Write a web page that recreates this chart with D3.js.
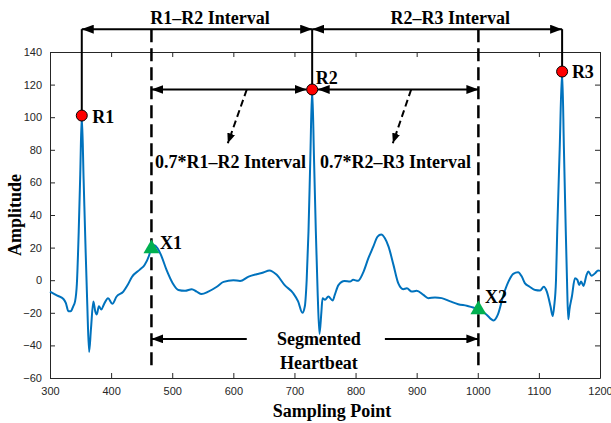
<!DOCTYPE html>
<html>
<head>
<meta charset="utf-8">
<script src="https://cdn.jsdelivr.net/npm/d3@7"></script>
<style>
  body { margin: 0; background: #fff; }
  svg { display: block; }
</style>
</head>
<body>
<svg id="chart"></svg>
<script>
// ECG samples: [sampling point, amplitude]
const signal = [
  [300,-7],[312,-9.5],[322,-11.5],[326,-14],[330,-19],[334,-19],[338,-16],[341,-13],
  [344,-2],[347,30],[349.5,65],[352,101],[355,62],[358,22],[361,-15],[364,-44],
  [367,-30],[371,-13],[374,-19],[376.5,-21],[380,-16],[384,-18],[388,-15],[395,-11],
  [402,-14.5],[409,-10],[420,-7],[427,-3],[434,2],[447,6.5],[455,9.5],[462,15],
  [466,20],[471,21.5],[476,19.5],[481,16],[491,6],[501,-2],[510,-6],[521,-6.5],
  [532,-5.5],[540,-7],[548,-8.5],[559,-7],[573,-4],[584,-1],[600,0],[611,-0.5],
  [625,2.2],[638,3.7],[649,4.7],[659,6],[671,3.3],[684,-3],[698,-8],[706,-13],
  [713,-20],[717,-16],[720,0],[723,30],[726,75],[729,117],[732,75],[735,30],
  [738,-8],[741,-33],[744,-20],[746,-11],[750,-12],[755.5,-10],[762.5,-12.5],[766,-9],
  [772,-3],[782,-0.5],[791,-0.8],[796,0.2],[804,-0.4],[812,4.3],[821,13.5],[829,20.6],
  [836,26.7],[842,28],[848,25.7],[854,20.6],[862,9.4],[870,-2],[878,-5.5],[884,-5],
  [892,-7],[900,-6.5],[911,-9],[919,-11],[930,-10.6],[941,-11],[955,-13],[968,-14.7],
  [982,-15.7],[995,-17],[1001,-17.5],[1014,-21],[1026,-24.7],[1033,-21],[1042,-9],
  [1050,-1],[1058,3.9],[1066,4.9],[1072,2.2],[1077,-1.8],[1085,-4],[1094,-6],
  [1102,-6.3],[1108,-4],[1113,-7],[1119,-16],[1122.5,-22],[1125,-16],[1128,0],
  [1130,30],[1134,80],[1138,128],[1141,80],[1144,30],[1146,0],[1148,-24],[1150,-18],
  [1154,-10],[1159,1.2],[1163,0.2],[1166,-3],[1169,-0.8],[1173,-3.5],[1178,3.3],
  [1181,5.3],[1186,2.7],[1192,4.3],[1197,6],[1200,5.7]
];

const rPeaks = [
  {name: "R1", x: 352, y: 101},
  {name: "R2", x: 729, y: 117},
  {name: "R3", x: 1138, y: 128}
];
const segPoints = [
  {name: "X1", x: 466, y: 20},
  {name: "X2", x: 1001, y: -17.5}
];

const xTicks = [300, 400, 500, 600, 700, 800, 900, 1000, 1100, 1200];
const yTicks = [-60, -40, -20, 0, 20, 40, 60, 80, 100, 120, 140];

const W = 611, H = 423;
const margin = {left: 50, right: 11, top: 52, bottom: 45};

const svg = d3.select("#chart").attr("width", W).attr("height", H);

const x = d3.scaleLinear().domain([300, 1200]).range([margin.left, W - margin.right]);
const y = d3.scaleLinear().domain([-60, 140]).range([H - margin.bottom, margin.top]);

const axisColor = "#262626";
const serif = "'Liberation Serif', 'Times New Roman', serif";

// arrow heads
const defs = svg.append("defs");
function arrowMarker(id, len, wid) {
  defs.append("marker")
    .attr("id", id)
    .attr("markerUnits", "userSpaceOnUse")
    .attr("markerWidth", len).attr("markerHeight", wid)
    .attr("refX", len).attr("refY", wid / 2)
    .attr("orient", "auto-start-reverse")
    .append("path")
    .attr("d", `M0,0 L${len},${wid / 2} L0,${wid} Z`)
    .attr("fill", "#000");
}
arrowMarker("arr", 12, 9);
arrowMarker("arrSmall", 10, 8);

// axes (MATLAB style: inward ticks, box)
const fmt = d3.format("d");
const gBottom = svg.append("g")
  .attr("transform", `translate(0,${y(-60)})`)
  .call(d3.axisBottom(x).tickValues(xTicks).tickFormat(fmt).tickSizeInner(-5).tickSizeOuter(0).tickPadding(9));
const gTop = svg.append("g")
  .attr("transform", `translate(0,${y(140)})`)
  .call(d3.axisTop(x).tickValues(xTicks).tickSizeInner(-5).tickSizeOuter(0).tickFormat(""));
const gLeft = svg.append("g")
  .attr("transform", `translate(${x(300)},0)`)
  .call(d3.axisLeft(y).tickValues(yTicks).tickFormat(fmt).tickSizeInner(-5).tickSizeOuter(0).tickPadding(8));
const gRight = svg.append("g")
  .attr("transform", `translate(${x(1200)},0)`)
  .call(d3.axisRight(y).tickValues(yTicks).tickSizeInner(-5).tickSizeOuter(0).tickFormat(""));

[gBottom, gTop, gLeft, gRight].forEach(g => {
  g.selectAll("path.domain").attr("stroke", axisColor).attr("stroke-width", 1);
  g.selectAll(".tick line").attr("stroke", axisColor).attr("stroke-width", 1);
  g.selectAll(".tick text")
    .attr("fill", axisColor)
    .style("font-family", "'Liberation Sans', Arial, sans-serif")
    .style("font-size", "11px");
});

// axis titles
svg.append("text")
  .attr("x", 332).attr("y", 417)
  .attr("text-anchor", "middle")
  .style("font-family", serif).style("font-weight", "bold").style("font-size", "18px")
  .text("Sampling Point");
svg.append("text")
  .attr("transform", `translate(21,${(y(-60) + y(140)) / 2}) rotate(-90)`)
  .attr("text-anchor", "middle")
  .style("font-family", serif).style("font-weight", "bold").style("font-size", "18px")
  .text("Amplitude");

// ECG line
const line = d3.line()
  .x(d => x(d[0]))
  .y(d => y(d[1]))
  .curve(d3.curveMonotoneX);

svg.append("path")
  .datum(signal)
  .attr("fill", "none")
  .attr("stroke", "#0072BD")
  .attr("stroke-width", 2)
  .attr("stroke-linejoin", "round")
  .attr("d", line);

// annotation helpers
const topY = 154;
function seg(x1, y1, x2, y2) {
  return svg.append("line")
    .attr("x1", x(x1)).attr("y1", y(y1))
    .attr("x2", x(x2)).attr("y2", y(y2))
    .attr("stroke", "#000").attr("stroke-width", 2);
}
function label(txt, xv, yv, anchor) {
  return svg.append("text")
    .attr("x", x(xv)).attr("y", y(yv))
    .attr("dy", "0.35em")
    .attr("text-anchor", anchor || "start")
    .style("font-family", serif).style("font-weight", "bold").style("font-size", "18px")
    .text(txt);
}

// dashed segment bounds
segPoints.forEach(p => {
  seg(p.x, topY, p.x, -55)
    .attr("stroke-width", 2.5)
    .attr("stroke-dasharray", "13,6");
});

// vertical lines from R peaks up
rPeaks.forEach(p => seg(p.x, p.y, p.x, topY));

// R-R interval arrows
seg(rPeaks[0].x, topY, rPeaks[1].x, topY)
  .attr("marker-start", "url(#arr)").attr("marker-end", "url(#arr)");
seg(rPeaks[1].x, topY, rPeaks[2].x, topY)
  .attr("marker-start", "url(#arr)").attr("marker-end", "url(#arr)");
label("R1\u2013R2 Interval", 562, 161, "middle");
label("R2\u2013R3 Interval", 955, 161, "middle");

// 0.7 * interval arrows
seg(segPoints[0].x, rPeaks[1].y, rPeaks[1].x - 9, rPeaks[1].y)
  .attr("marker-start", "url(#arr)").attr("marker-end", "url(#arr)");
seg(rPeaks[1].x + 9, rPeaks[1].y, segPoints[1].x, rPeaks[1].y)
  .attr("marker-start", "url(#arr)").attr("marker-end", "url(#arr)");
seg(622, 117, 591, 84).attr("stroke-dasharray", "7,4").attr("marker-end", "url(#arrSmall)");
seg(891, 117, 861, 84).attr("stroke-dasharray", "7,4").attr("marker-end", "url(#arrSmall)");
label("0.7*R1\u2013R2 Interval", 472, 72.5);
label("0.7*R2\u2013R3 Interval", 742, 72.5);

// segmented heartbeat arrows
seg(622, -36, segPoints[0].x, -36).attr("marker-end", "url(#arr)");
seg(848, -36, segPoints[1].x, -36).attr("marker-end", "url(#arr)");
label("Segmented", 740, -36, "middle");
label("Heartbeat", 740, -50.5, "middle");

// markers
const tri = d3.symbol().type(d3.symbolTriangle).size(110);
svg.selectAll("path.seg")
  .data(segPoints)
  .join("path")
  .attr("class", "seg")
  .attr("transform", d => `translate(${x(d.x)},${y(d.y) + 1})`)
  .attr("d", tri)
  .attr("fill", "#00B050");

svg.selectAll("circle.r")
  .data(rPeaks)
  .join("circle")
  .attr("class", "r")
  .attr("cx", d => x(d.x)).attr("cy", d => y(d.y))
  .attr("r", 5.5)
  .attr("fill", "#FF0000")
  .attr("stroke", "#000").attr("stroke-width", 1);

// point labels
label("R1", 369, 100.6);
label("R2", 735, 124);
label("R3", 1154, 128);
label("X1", 480, 23);
label("X2", 1012, -10);
</script>
</body>
</html>
